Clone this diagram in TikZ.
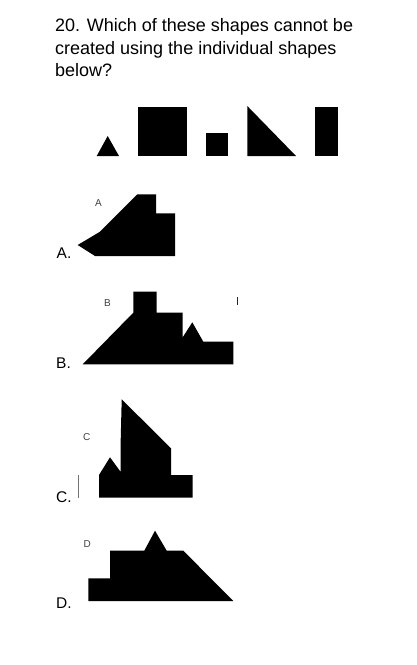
\documentclass[tikz,border=0pt]{standalone}
\usepackage{fontspec}
\setmainfont{Liberation Sans}
\usepackage{tikz}
\tikzset{
  piece/.style    = {fill=black},
  qtext/.style    = {font=\fontsize{18}{22.5}\selectfont,align=left,inner sep=0pt},
  optlabel/.style = {font=\fontsize{15.5}{18}\selectfont,inner sep=0pt,anchor=base west},
  tinylabel/.style= {font=\fontsize{10}{12}\selectfont,black!75,inner sep=0pt,anchor=base west},
  stray/.style    = {line width=1pt}
}

\begin{document}
\begin{tikzpicture}[x=1pt,y=-1pt]
  \useasboundingbox[fill=white] (0,0) rectangle (417,665);
  \node[qtext,anchor=north west] (question) at (55,18.6)
        {20. Which of these shapes cannot be\\created using the individual shapes\\below?};
  % the individual shapes
  \fill[piece] (96.7,156) -- (107.7,136) -- (119,156) -- cycle;
  \fill[piece] (138.3,106.7) rectangle (187.3,156);
  \fill[piece] (206,133.3) rectangle (228.3,156);
  \fill[piece] (247.3,106) -- (296,156) -- (247.3,156) -- cycle;
  \fill[piece] (315,106.7) rectangle (337.7,156);
  % option A
  \node[tinylabel] (tagA) at (95,206) {A};
  \node[optlabel]  (optA) at (56.5,258.3) {A.};
  \fill[piece] (137.3,194.3) -- (156,194.3) -- (156,213.3) -- (175,213.3)
        -- (175,256) -- (95,256) -- (77.7,245) -- (100,231.7) -- cycle;
  % option B
  \node[tinylabel] (tagB) at (104,306) {B};
  \node[optlabel]  (optB) at (56,368.3) {B.};
  \fill[piece] (82.7,364.3) -- (133.3,312.7) -- (133.3,291.7) -- (156.7,291.7)
        -- (156.7,312.7) -- (182.7,312.7) -- (182.7,337.3) -- (192.3,322.3)
        -- (203.3,341.7) -- (233.3,341.7) -- (233.3,364.3) -- cycle;
  \draw[stray,black!85] (237.7,297.3) -- (237.7,304.7);
  % option C
  \node[tinylabel] (tagC) at (83,440) {C};
  \node[optlabel]  (optC) at (56,502.7) {C.};
  \fill[piece] (121.7,399.3) -- (171,448.3) -- (171,475) -- (192.7,475)
        -- (192.7,497.7) -- (99,497.7) -- (99,475) -- (110,457.3)
        -- (120.5,471.7) -- (120.5,448.3) -- cycle;
  \draw[stray,black!55] (78.3,475) -- (78.3,498);
  % option D
  \node[tinylabel] (tagD) at (83.5,547) {D};
  \node[optlabel]  (optD) at (56,608.7) {D.};
  \fill[piece] (88.3,578.3) -- (110,578.3) -- (110,550.7) -- (144.3,550.7)
        -- (155,530.7) -- (166.7,550.7) -- (183.3,550.7) -- (233.3,601)
        -- (88.3,601) -- cycle;
\end{tikzpicture}
\end{document}
